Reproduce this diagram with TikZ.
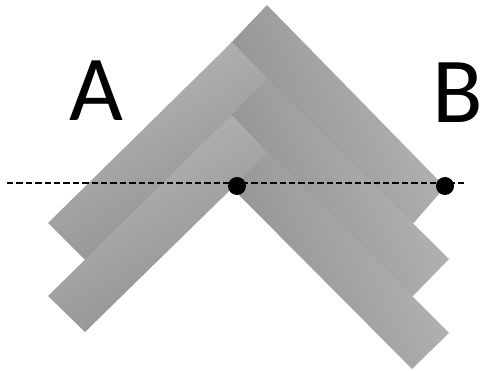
\documentclass[tikz,border=0pt]{standalone}
\usepackage{fontspec}
\setmainfont{Carlito}
\usetikzlibrary{positioning}
\definecolor{plankDark}{RGB}{142,142,142}
\definecolor{plankLight}{RGB}{184,184,184}
\begin{document}
\begin{tikzpicture}[
      x=1pt, y=-1pt,
      plankR/.style={left color=plankDark, right color=plankLight, shading angle=115},
      plankL/.style={left color=plankLight, right color=plankDark, shading angle=30},
      letter/.style={font=\fontsize{93}{93}\selectfont, text=black, inner sep=0pt},
      dot/.style={circle, fill=black, minimum size=18pt, inner sep=0pt},
      cut/.style={dash pattern=on 6.4pt off 3pt, line width=1.9pt, black}
    ]
    \useasboundingbox (0,0) rectangle (482,371);

    % planks, back to front
    \shade[plankR] (267,5) -- (445,187) -- (411,226) -- (229,45) -- cycle;
    \shade[plankL] (48,223) -- (232,42) -- (271,82) -- (88,263) -- cycle;
    \shade[plankR] (267,79) -- (449,259) -- (411,298) -- (229,118) -- cycle;
    \shade[plankL] (48,296) -- (232,115) -- (268,153) -- (85,332) -- cycle;
    \shade[plankR] (268,152) -- (449,333) -- (412,369) -- (232,188) -- cycle;

    \node[letter] (labelA) at (96,91) {A};
    \node[letter] (labelB) at (458,93) {B};

    \coordinate (cutL) at (7,183);
    \coordinate (cutR) at (464,183);
    \draw[cut] (cutL) -- (cutR);

    \node[dot] (dotA) at (237,186) {};
    \node[dot] (dotB) at (445,186) {};
  \end{tikzpicture}
\end{document}
